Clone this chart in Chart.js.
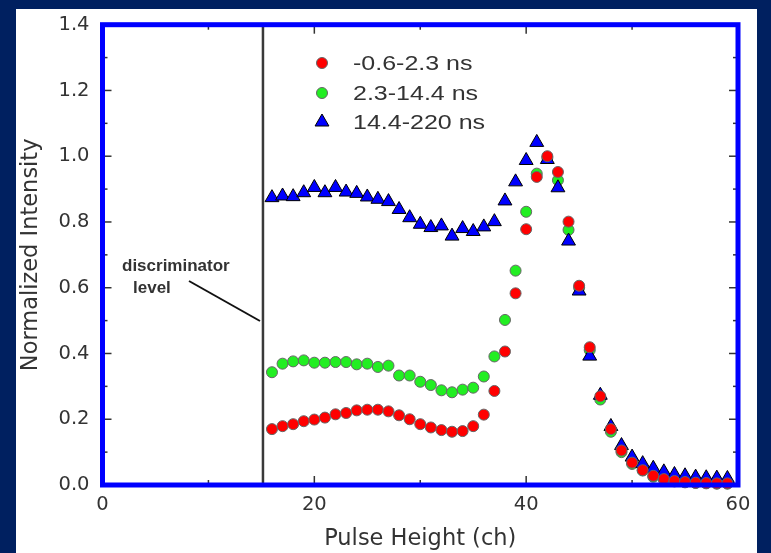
<!DOCTYPE html>
<html>
<head>
<meta charset="utf-8">
<script src="https://cdn.jsdelivr.net/npm/chart.js@4.4.1/dist/chart.umd.min.js"></script>
<style>
    html, body { margin: 0; padding: 0; background: #002060; }
    #wrap { width: 771px; height: 553px; }
</style>
</head>
<body>
<div id="wrap"><canvas id="chart" width="771" height="553"></canvas></div>
<script>
// Pulse height channels (x)
const channels = [16, 17, 18, 19, 20, 21, 22, 23, 24, 25, 26, 27, 28, 29, 30, 31, 32, 33, 34, 35, 36, 37,
                  38, 39, 40, 41, 42, 43, 44, 45, 46, 47, 48, 49, 50, 51, 52, 53, 54, 55, 56, 57, 58, 59];

// -0.6-2.3 ns
const earlyValues = [0.170, 0.179, 0.185, 0.194, 0.199, 0.205, 0.215, 0.219, 0.227, 0.229, 0.229, 0.224,
                     0.212, 0.200, 0.185, 0.175, 0.167, 0.162, 0.164, 0.179, 0.214, 0.286, 0.406, 0.583,
                     0.778, 0.937, 1.000, 0.952, 0.801, 0.606, 0.419, 0.270, 0.170, 0.105, 0.068, 0.045,
                     0.028, 0.018, 0.012, 0.009, 0.007, 0.006, 0.005, 0.005];

// 2.3-14.4 ns
const midValues = [0.343, 0.369, 0.376, 0.379, 0.372, 0.372, 0.374, 0.374, 0.367, 0.369, 0.359, 0.363,
                   0.333, 0.333, 0.314, 0.304, 0.288, 0.282, 0.290, 0.296, 0.330, 0.391, 0.502, 0.652,
                   0.831, 0.947, 0.995, 0.927, 0.776, 0.600, 0.410, 0.260, 0.162, 0.100, 0.064, 0.044,
                   0.025, 0.016, 0.011, 0.008, 0.006, 0.005, 0.004, 0.004];

// 14.4-220 ns
const lateValues = [0.874, 0.879, 0.877, 0.889, 0.905, 0.889, 0.905, 0.891, 0.887, 0.876, 0.869, 0.862,
                    0.838, 0.813, 0.793, 0.783, 0.788, 0.757, 0.780, 0.771, 0.785, 0.801, 0.864, 0.922,
                    0.987, 1.042, 0.990, 0.904, 0.742, 0.590, 0.392, 0.273, 0.178, 0.120, 0.085, 0.065,
                    0.051, 0.040, 0.032, 0.028, 0.024, 0.022, 0.021, 0.020];

const seriesLabels = ['-0.6-2.3 ns', '2.3-14.4 ns', '14.4-220 ns'];

// Discriminator level (ch)
const discriminatorLevel = 15.15;

// Axis ticks
const xTicks = [0, 20, 40, 60];
const xMinorTicks = [10, 30, 50];
const yTicks = [0, 0.2, 0.4, 0.6, 0.8, 1.0, 1.2, 1.4];
const yMinorTicks = [0.1, 0.3, 0.5, 0.7, 0.9, 1.1, 1.3];

const FONT = '"DejaVu Sans", sans-serif';
const ARIAL = '"Liberation Sans", Arial, sans-serif';
const TEXT = '#333333';

function toPoints(values) {
    return channels.map((ch, i) => ({ x: ch, y: values[i] }));
}

// Background panel, frame, tick marks, legend and annotation
const framePlugin = {
    id: 'frame',
    beforeDraw(chart) {
        const ctx = chart.ctx;
        ctx.save();
        ctx.fillStyle = '#002060';
        ctx.fillRect(0, 0, chart.width, chart.height);
        ctx.fillStyle = '#ffffff';
        ctx.fillRect(16, 9, 741, chart.height - 9);
        ctx.restore();
    },
    afterDatasetsDraw(chart) {
        const ctx = chart.ctx;
        const area = chart.chartArea;
        const xs = chart.scales.x;
        const ys = chart.scales.y;
        ctx.save();

        // inward tick marks on all four sides
        ctx.strokeStyle = '#333333';
        ctx.lineWidth = 1.5;
        const tick = (x1, y1, x2, y2) => {
            ctx.beginPath();
            ctx.moveTo(x1, y1);
            ctx.lineTo(x2, y2);
            ctx.stroke();
        };
        xTicks.concat(xMinorTicks).forEach(v => {
            const len = xTicks.includes(v) ? 9 : 5;
            const px = xs.getPixelForValue(v);
            tick(px, area.bottom, px, area.bottom - len);
            tick(px, area.top, px, area.top + len);
        });
        yTicks.concat(yMinorTicks).forEach(v => {
            const len = yTicks.includes(v) ? 9 : 5;
            const py = ys.getPixelForValue(v);
            tick(area.left, py, area.left + len, py);
            tick(area.right, py, area.right - len, py);
        });

        // blue frame
        ctx.strokeStyle = '#0000ff';
        ctx.lineWidth = 5;
        ctx.strokeRect(area.left, area.top, area.right - area.left, area.bottom - area.top);

        // legend
        const rows = [63, 93, 122];
        seriesLabels.forEach((label, i) => {
            const d = chart.data.datasets.find(ds => ds.label === label);
            const cy = rows[i];
            ctx.fillStyle = d.pointBackgroundColor;
            ctx.strokeStyle = d.pointBorderColor;
            ctx.lineWidth = d.pointBorderWidth;
            ctx.beginPath();
            if (d.pointStyle === 'triangle') {
                const r = d.pointRadius;
                ctx.moveTo(322, cy - r);
                ctx.lineTo(322 + r * 0.866, cy + r * 0.5);
                ctx.lineTo(322 - r * 0.866, cy + r * 0.5);
                ctx.closePath();
            } else {
                ctx.arc(322, cy, d.pointRadius, 0, Math.PI * 2);
            }
            ctx.fill();
            ctx.stroke();

            // legend text is wide in the original, so stretch it horizontally
            ctx.save();
            ctx.translate(353, cy + 1);
            ctx.scale(1.25, 1);
            ctx.font = '20px ' + ARIAL;
            ctx.fillStyle = TEXT;
            ctx.textAlign = 'left';
            ctx.textBaseline = 'middle';
            ctx.fillText(label, 0, 0);
            ctx.restore();
        });

        // discriminator annotation
        ctx.font = 'bold 17px ' + ARIAL;
        ctx.fillStyle = TEXT;
        ctx.textAlign = 'left';
        ctx.textBaseline = 'middle';
        ctx.fillText('discriminator', 122, 266);
        ctx.fillText('level', 133, 288);
        ctx.strokeStyle = '#111111';
        ctx.lineWidth = 2;
        ctx.beginPath();
        ctx.moveTo(189, 281);
        ctx.lineTo(260, 321);
        ctx.stroke();

        ctx.restore();
    }
};

const ctx = document.getElementById('chart').getContext('2d');

new Chart(ctx, {
    type: 'scatter',
    data: {
        datasets: [
            {
                label: 'discriminator',
                data: [{ x: discriminatorLevel, y: 0 }, { x: discriminatorLevel, y: 1.4 }],
                showLine: true,
                borderColor: '#3a3a3a',
                borderWidth: 2.5,
                pointRadius: 0,
                order: 4
            },
            {
                label: seriesLabels[0],
                data: toPoints(earlyValues),
                pointStyle: 'circle',
                pointRadius: 5.5,
                pointBackgroundColor: '#ff0000',
                pointBorderColor: '#666666',
                pointBorderWidth: 1,
                order: 0
            },
            {
                label: seriesLabels[1],
                data: toPoints(midValues),
                pointStyle: 'circle',
                pointRadius: 5.5,
                pointBackgroundColor: '#22ee22',
                pointBorderColor: '#666666',
                pointBorderWidth: 1,
                order: 2
            },
            {
                label: seriesLabels[2],
                data: toPoints(lateValues),
                pointStyle: 'triangle',
                pointRadius: 8,
                pointBackgroundColor: '#0000ff',
                pointBorderColor: '#000000',
                pointBorderWidth: 1,
                order: 1
            }
        ]
    },
    options: {
        responsive: false,
        animation: false,
        clip: false,
        layout: {
            padding: { left: 16, right: 33, top: 24, bottom: 0 }
        },
        plugins: {
            legend: { display: false },
            tooltip: { enabled: false }
        },
        scales: {
            x: {
                type: 'linear',
                min: 0,
                max: 60,
                grid: { display: false, drawTicks: false },
                border: { display: false },
                afterBuildTicks: scale => {
                    scale.ticks = xTicks.map(v => ({ value: v }));
                },
                afterFit: scale => {
                    scale.height = 68;
                },
                ticks: {
                    padding: 8,
                    color: TEXT,
                    font: { family: FONT, size: 19.5 }
                },
                title: {
                    display: true,
                    text: 'Pulse Height (ch)',
                    color: TEXT,
                    padding: { top: 0, bottom: 0 },
                    font: { family: FONT, size: 22.5 }
                }
            },
            y: {
                type: 'linear',
                min: 0,
                max: 1.4,
                grid: { display: false, drawTicks: false },
                border: { display: false },
                afterBuildTicks: scale => {
                    scale.ticks = yTicks.map(v => ({ value: v }));
                },
                afterFit: scale => {
                    scale.width = 86.5;
                },
                ticks: {
                    padding: 13,
                    color: TEXT,
                    font: { family: FONT, size: 19.5 },
                    callback: v => v.toFixed(1)
                },
                title: {
                    display: true,
                    text: 'Normalized Intensity',
                    color: TEXT,
                    padding: { top: 2, bottom: 0 },
                    font: { family: FONT, size: 22.5 }
                }
            }
        }
    },
    plugins: [framePlugin]
});
</script>
</body>
</html>
